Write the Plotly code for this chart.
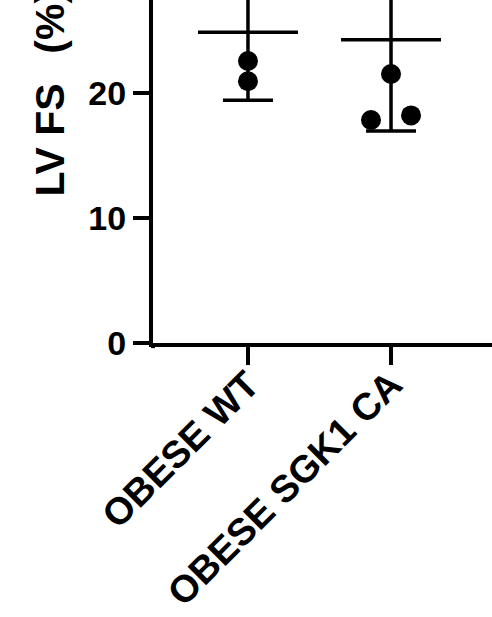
import numpy as np
import plotly.graph_objects as go

# LV fractional shortening (%) per animal
groups = ["OBESE WT", "OBESE SGK1 CA"]
wt_values = [31.08, 22.56, 20.94]
sgk_values = [34.34, 29.39, 21.52, 17.84, 18.21]
wt_offsets = [0.0, 0.0, 0.0]
sgk_offsets = [0.0, 0.0, 0.0, -0.14, 0.14]
y_ticks = [0, 10, 20]

FONT = "Liberation Sans, Arial, sans-serif"
series = [wt_values, sgk_values]
offsets = [wt_offsets, sgk_offsets]
means = [float(np.mean(v)) for v in series]
sds = [float(np.std(v, ddof=1)) for v in series]

fig = go.Figure()

# mean line with SD error bars (line-ew symbols are drawn 1.4x their size)
fig.add_trace(go.Scatter(
    x=list(range(len(groups))), y=means,
    mode="markers",
    marker=dict(symbol="line-ew", size=100 / 1.4, color="black",
                line=dict(color="black", width=3.5)),
    error_y=dict(type="data", array=sds, visible=True,
                 color="black", thickness=3.5, width=25),
    cliponaxis=True, showlegend=False, hoverinfo="skip",
))

# individual animals
for i, (vals, offs) in enumerate(zip(series, offsets)):
    fig.add_trace(go.Scatter(
        x=[i + o for o in offs], y=vals,
        mode="markers",
        marker=dict(symbol="circle", size=20, color="black"),
        showlegend=False, hoverinfo="skip",
    ))

fig.update_layout(
    width=492, height=617,
    margin=dict(l=153, r=0, t=0, b=274, autoexpand=False),
    plot_bgcolor="white", paper_bgcolor="white",
    font=dict(family=FONT, color="black"),
    xaxis=dict(
        range=[-0.664, 1.706], tickmode="array",
        tickvals=list(range(len(groups))),
        ticktext=[f"<b>{g}</b>" for g in groups],
        tickangle=-45, tickfont=dict(size=38, family=FONT),
        ticks="outside", ticklen=18, tickwidth=4, tickcolor="black",
        ticklabelstandoff=-18,
        showline=True, linewidth=4, linecolor="black",
        showgrid=False, zeroline=False, automargin=False,
    ),
    yaxis=dict(
        range=[0, 27.44], tickmode="array", tickvals=y_ticks,
        ticktext=[f"<b>{t}</b>" for t in y_ticks],
        tickfont=dict(size=34, family=FONT),
        ticks="outside", ticklen=16, tickwidth=4, tickcolor="black",
        showline=True, linewidth=4, linecolor="black",
        showgrid=False, zeroline=False, automargin=False,
    ),
    annotations=[dict(
        text="<b>LV FS\u00a0\u00a0\u2006(%)</b>", textangle=-90,
        xref="paper", yref="paper", x=-0.304, y=0.4227,
        xanchor="center", yanchor="bottom", showarrow=False,
        font=dict(size=41, family=FONT, color="black"),
    )],
    shapes=[dict(
        type="line", xref="paper", yref="paper",
        x0=0, x1=0, y0=0, y1=-0.015,
        line=dict(color="black", width=4),
    )],
)

fig.write_html("out.html")
